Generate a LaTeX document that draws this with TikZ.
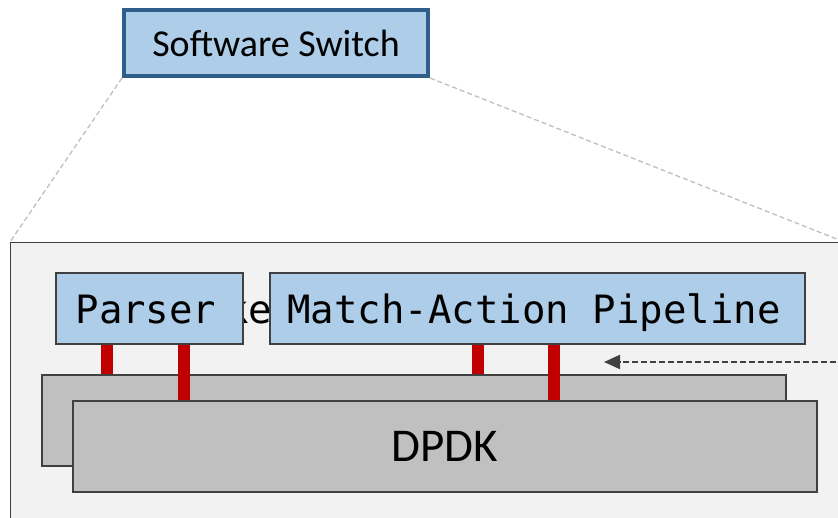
\documentclass[tikz,border=0pt]{standalone}
\usepackage{fontspec}
\setsansfont{Carlito}
\newfontfamily\monof{DejaVu Sans Mono}
\usetikzlibrary{arrows.meta}
\definecolor{swfill}{RGB}{174,205,232}
\definecolor{swdraw}{RGB}{47,94,138}
\definecolor{panelfill}{RGB}{242,242,242}
\definecolor{boxdraw}{RGB}{64,64,64}
\definecolor{dpdkfill}{RGB}{192,192,192}
\definecolor{barred}{RGB}{192,0,0}
\definecolor{zoomline}{RGB}{191,191,191}
\tikzset{
  swbox/.style={draw=swdraw, fill=swfill, line width=4pt, inner sep=0pt,
    font=\sffamily\fontsize{38}{40}\selectfont},
  panelbox/.style={draw=boxdraw, fill=panelfill, line width=1.3pt, inner sep=0pt},
  stagebox/.style={draw=boxdraw, fill=swfill, line width=1.3pt, inner sep=0pt,
    text height=31pt, text depth=0pt,
    font=\monof\fontsize{39}{40}\selectfont},
  dpdkbox/.style={draw=boxdraw, fill=dpdkfill, line width=1.3pt, inner sep=0pt,
    font=\sffamily\fontsize{47}{48}\selectfont},
  zoomconn/.style={draw=zoomline, line width=1.3pt, dash pattern=on 5pt off 3pt},
  redbar/.style={draw=barred, line width=12pt, line cap=butt},
  ctrlarrow/.style={draw=boxdraw, line width=2pt, dash pattern=on 6pt off 3pt,
    -{Triangle[length=16pt,width=14pt]}},
}
\begin{document}
\begin{tikzpicture}[x=1pt,y=-1pt]
\useasboundingbox (0,0) rectangle (838,518);
\clip (0,0) rectangle (838,518);
% panel
\node[panelbox, anchor=north west, minimum width=833pt, minimum height=300pt] (panel) at (10,242) {};
% software switch
\node[swbox, minimum width=304pt, minimum height=66pt] (sw) at (276,43) {Software Switch};
\draw[zoomconn] (sw.south west) -- (panel.north west);
\draw[zoomconn] (sw.south east) -- (panel.north east);
% partly hidden text
\node[anchor=base west, inner sep=0pt, font=\monof\fontsize{39}{40}\selectfont] (hidden) at (225,324) {ke};
% stages
\node[stagebox, minimum width=187pt, minimum height=71pt] (parser) at (149.5,308.5) {Parser\hspace*{7pt}};
\node[stagebox, minimum width=535pt, minimum height=71pt] (mau) at (537.5,308.5) {Match-Action Pipeline\hspace*{7pt}};
% back DPDK layer
\node[dpdkbox, minimum width=744pt, minimum height=91pt] (back) at (414,420.5) {};
% red bars
\draw[redbar] (107,0 |- parser.south) -- (107,0 |- back.north);
\draw[redbar] (477.5,0 |- mau.south) -- (477.5,0 |- back.north);
\node[dpdkbox, minimum width=744pt, minimum height=91pt] (front) at (445,446.5) {DPDK};
\draw[redbar] (184,0 |- parser.south) -- (184,0 |- front.north);
\draw[redbar] (554,0 |- mau.south) -- (554,0 |- front.north);
% control arrow
\coordinate (ctrlsrc) at (845,362);
\coordinate (ctrltgt) at (604,362);
\draw[ctrlarrow] (ctrlsrc) -- (ctrltgt);
\end{tikzpicture}
\end{document}
